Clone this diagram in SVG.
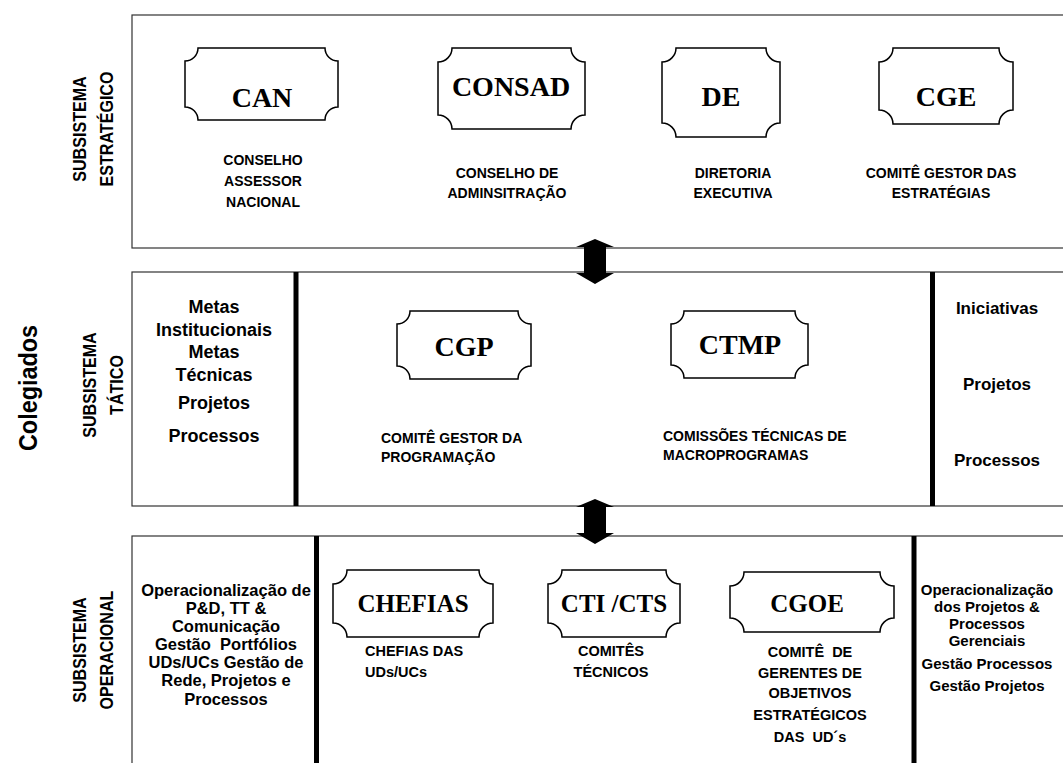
<svg xmlns="http://www.w3.org/2000/svg" width="1063" height="763" viewBox="0 0 1063 763">
<style>
.frame{fill:none;stroke:#333;stroke-width:1.2}
.sep{stroke:#000;stroke-width:5}
.plaque{fill:#fff;stroke:#000;stroke-width:1.5}
.ptx{font-family:"Liberation Serif","Times New Roman",serif;font-weight:bold;fill:#000;text-anchor:middle}
.lbl{font-family:"Liberation Sans",Arial,sans-serif;font-weight:bold;fill:#000;font-size:14px}
.c{text-anchor:middle}
.big{font-family:"Liberation Sans",Arial,sans-serif;font-weight:bold;fill:#000;text-anchor:middle}
.sub{font-size:18.5px}
.arrow{fill:#000}
</style>
<rect width="1063" height="763" fill="#fff"/>

<g id="frames">
<rect class="frame" x="132" y="15" width="1000" height="233"/>
<rect class="frame" x="132" y="272" width="1000" height="234"/>
<rect class="frame" x="132" y="536" width="1000" height="300"/>
<line class="sep" x1="296" y1="272" x2="296" y2="506"/>
<line class="sep" x1="932.5" y1="272" x2="932.5" y2="506"/>
<line class="sep" x1="316.5" y1="536" x2="316.5" y2="763"/>
<line class="sep" x1="914" y1="536" x2="914" y2="763"/>
</g>

<g id="side-labels">
<text class="big" font-size="26" transform="translate(37,388) rotate(-90) scale(0.9,1)">Colegiados</text>
<text class="big sub" transform="translate(86,129) rotate(-90) scale(0.87,1)">SUBSISTEMA</text>
<text class="big sub" transform="translate(113,129) rotate(-90) scale(0.87,1)">ESTRATÉGICO</text>
<text class="big sub" transform="translate(96,385) rotate(-90) scale(0.87,1)">SUBSISTEMA</text>
<text class="big sub" transform="translate(123,385) rotate(-90) scale(0.87,1)">TÁTICO</text>
<text class="big sub" transform="translate(86,650) rotate(-90) scale(0.87,1)">SUBSISTEMA</text>
<text class="big sub" transform="translate(113,650) rotate(-90) scale(0.87,1)">OPERACIONAL</text>
</g>

<g id="connectors">
<path class="arrow" d="M595,239 L614,247 L606,247 L606,273 L614,273 L595,284 L576,273 L584,273 L584,247 L576,247 Z"/>
<path class="arrow" d="M595,499 L614,507 L606,507 L606,533 L614,533 L595,544 L576,533 L584,533 L584,507 L576,507 Z"/>
</g>

<g id="CAN">
<path class="plaque" d="M198,48 H325 A13,13 0 0 0 338,61 V107 A13,13 0 0 0 325,120 H198 A13,13 0 0 0 185,107 V61 A13,13 0 0 0 198,48 Z"/>
<text class="ptx" font-size="28" x="262" y="107">CAN</text>
<text class="lbl c" x="263" y="165">CONSELHO</text>
<text class="lbl c" x="263" y="186">ASSESSOR</text>
<text class="lbl c" x="263" y="207">NACIONAL</text>
</g>

<g id="CONSAD">
<path class="plaque" d="M452,48 H571 A14,14 0 0 0 585,62 V115 A14,14 0 0 0 571,129 H452 A14,14 0 0 0 438,115 V62 A14,14 0 0 0 452,48 Z"/>
<text class="ptx" font-size="28" x="511" y="96">CONSAD</text>
<text class="lbl c" x="507" y="178">CONSELHO DE</text>
<text class="lbl c" x="507" y="198">ADMINSITRAÇÃO</text>
</g>

<g id="DE">
<path class="plaque" d="M676,48 H766 A14,14 0 0 0 780,62 V123 A14,14 0 0 0 766,137 H676 A14,14 0 0 0 662,123 V62 A14,14 0 0 0 676,48 Z"/>
<text class="ptx" font-size="28" x="721" y="106">DE</text>
<text class="lbl c" x="733" y="178">DIRETORIA</text>
<text class="lbl c" x="733" y="198">EXECUTIVA</text>
</g>

<g id="CGE">
<path class="plaque" d="M893,48 H999 A14,14 0 0 0 1013,62 V110 A14,14 0 0 0 999,124 H893 A14,14 0 0 0 879,110 V62 A14,14 0 0 0 893,48 Z"/>
<text class="ptx" font-size="28" x="946" y="106">CGE</text>
<text class="lbl c" x="941" y="178">COMITÊ GESTOR DAS</text>
<text class="lbl c" x="941" y="198">ESTRATÉGIAS</text>
</g>

<g id="tatico-left">
<text class="big" font-size="18" x="214" y="313">Metas</text>
<text class="big" font-size="18" x="214" y="336">Institucionais</text>
<text class="big" font-size="18" x="214" y="358">Metas</text>
<text class="big" font-size="18" x="214" y="381">Técnicas</text>
<text class="big" font-size="18" x="214" y="409">Projetos</text>
<text class="big" font-size="18" x="214" y="442">Processos</text>
</g>

<g id="CGP">
<path class="plaque" d="M410,311 H518 A13,13 0 0 0 531,324 V366 A13,13 0 0 0 518,379 H410 A13,13 0 0 0 397,366 V324 A13,13 0 0 0 410,311 Z"/>
<text class="ptx" font-size="28" x="464" y="356">CGP</text>
<text class="lbl" x="381" y="443">COMITÊ GESTOR DA</text>
<text class="lbl" x="381" y="462">PROGRAMAÇÃO</text>
</g>

<g id="CTMP">
<path class="plaque" d="M684,311 H795 A13,13 0 0 0 808,324 V365 A13,13 0 0 0 795,378 H684 A13,13 0 0 0 671,365 V324 A13,13 0 0 0 684,311 Z"/>
<text class="ptx" font-size="28" x="740" y="354">CTMP</text>
<text class="lbl" x="663" y="441">COMISSÕES TÉCNICAS DE</text>
<text class="lbl" x="663" y="460">MACROPROGRAMAS</text>
</g>

<g id="tatico-right">
<text class="big" font-size="17" x="997" y="314">Iniciativas</text>
<text class="big" font-size="17" x="997" y="390">Projetos</text>
<text class="big" font-size="17" x="997" y="466">Processos</text>
</g>

<g id="operacional-left">
<text class="big" font-size="16.5" x="226" y="596">Operacionalização de</text>
<text class="big" font-size="16.5" x="226" y="614">P&amp;D, TT &amp;</text>
<text class="big" font-size="16.5" x="226" y="632">Comunicação</text>
<text class="big" font-size="16.5" x="226" y="650" xml:space="preserve">Gestão  Portfólios</text>
<text class="big" font-size="16.5" x="226" y="668">UDs/UCs Gestão de</text>
<text class="big" font-size="16.5" x="226" y="686">Rede, Projetos e</text>
<text class="big" font-size="16.5" x="226" y="705">Processos</text>
</g>

<g id="CHEFIAS">
<path class="plaque" d="M347,570 H479 A14,14 0 0 0 493,584 V623 A14,14 0 0 0 479,637 H347 A14,14 0 0 0 333,623 V584 A14,14 0 0 0 347,570 Z"/>
<text class="ptx" font-size="25" x="413" y="612">CHEFIAS</text>
<text class="lbl" x="365" y="656" style="font-size:14.5px">CHEFIAS DAS</text>
<text class="lbl" x="365" y="677" style="font-size:14.5px">UDs/UCs</text>
</g>

<g id="CTI-CTS">
<path class="plaque" d="M562,570 H666 A14,14 0 0 0 680,584 V623 A14,14 0 0 0 666,637 H562 A14,14 0 0 0 548,623 V584 A14,14 0 0 0 562,570 Z"/>
<text class="ptx" font-size="25" x="614" y="612">CTI /CTS</text>
<text class="lbl c" x="611" y="656" style="font-size:14.5px">COMITÊS</text>
<text class="lbl c" x="611" y="677" style="font-size:14.5px">TÉCNICOS</text>
</g>

<g id="CGOE">
<path class="plaque" d="M744,572 H880 A14,14 0 0 0 894,586 V618 A14,14 0 0 0 880,632 H744 A14,14 0 0 0 730,618 V586 A14,14 0 0 0 744,572 Z"/>
<text class="ptx" font-size="25" x="807" y="612">CGOE</text>
<text class="lbl c" x="810" y="657" style="font-size:14.5px" xml:space="preserve">COMITÊ  DE</text>
<text class="lbl c" x="810" y="678" style="font-size:14.5px">GERENTES DE</text>
<text class="lbl c" x="810" y="698" style="font-size:14.5px">OBJETIVOS</text>
<text class="lbl c" x="810" y="720" style="font-size:14.5px">ESTRATÉGICOS</text>
<text class="lbl c" x="810" y="742" style="font-size:14.5px" xml:space="preserve">DAS  UD´s</text>
</g>

<g id="operacional-right">
<text class="big" font-size="15" x="987" y="595">Operacionalização</text>
<text class="big" font-size="15" x="987" y="612">dos Projetos &amp;</text>
<text class="big" font-size="15" x="987" y="629">Processos</text>
<text class="big" font-size="15" x="987" y="646">Gerenciais</text>
<text class="big" font-size="15" x="987" y="669">Gestão Processos</text>
<text class="big" font-size="15" x="987" y="691">Gestão Projetos</text>
</g>
</svg>
